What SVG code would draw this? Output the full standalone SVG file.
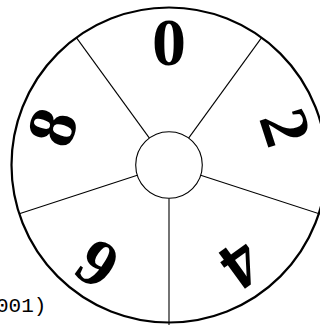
<svg xmlns="http://www.w3.org/2000/svg" width="320" height="325" viewBox="0 0 320 325">
<style>
.digit{font-family:"Liberation Serif","Times New Roman",serif;font-weight:bold;font-size:68px;text-anchor:middle;fill:#000}
.spoke{stroke:#000;stroke-width:1.1;fill:none}
.cap{font-family:"Liberation Mono","Courier New",monospace;font-size:21px;fill:#000}
</style>
<rect width="320" height="325" fill="#fff"/>
<g id="wheel">
<circle cx="169" cy="165" r="157.5" fill="#fff" stroke="#000" stroke-width="2.2"/>
</g>
<g id="connectors">
<line class="spoke" x1="169" y1="198.3" x2="169" y2="325"/>
<line class="spoke" x1="200.7" y1="175.3" x2="320" y2="214"/>
<line class="spoke" x1="188.6" y1="138.1" x2="261.6" y2="37.6"/>
<line class="spoke" x1="149.4" y1="138.1" x2="76.4" y2="37.6"/>
<line class="spoke" x1="137.3" y1="175.3" x2="19.3" y2="213.7"/>
</g>
<g id="hub">
<circle cx="169" cy="165" r="33.3" fill="#fff" stroke="#000" stroke-width="1.1"/>
</g>
<g id="d0"><text class="digit" x="169" y="65">0</text></g>
<g id="d2"><text class="digit" x="169" y="65" transform="rotate(72 169 165)">2</text></g>
<g id="d4"><text class="digit" x="169" y="65" transform="rotate(144 169 165)">4</text></g>
<g id="d6"><text class="digit" x="169" y="65" transform="rotate(216 169 165)">6</text></g>
<g id="d8"><text class="digit" x="169" y="65" transform="rotate(288 169 165)">8</text></g>
<g id="caption"><text class="cap" x="-4" y="312">001)</text></g>
</svg>
